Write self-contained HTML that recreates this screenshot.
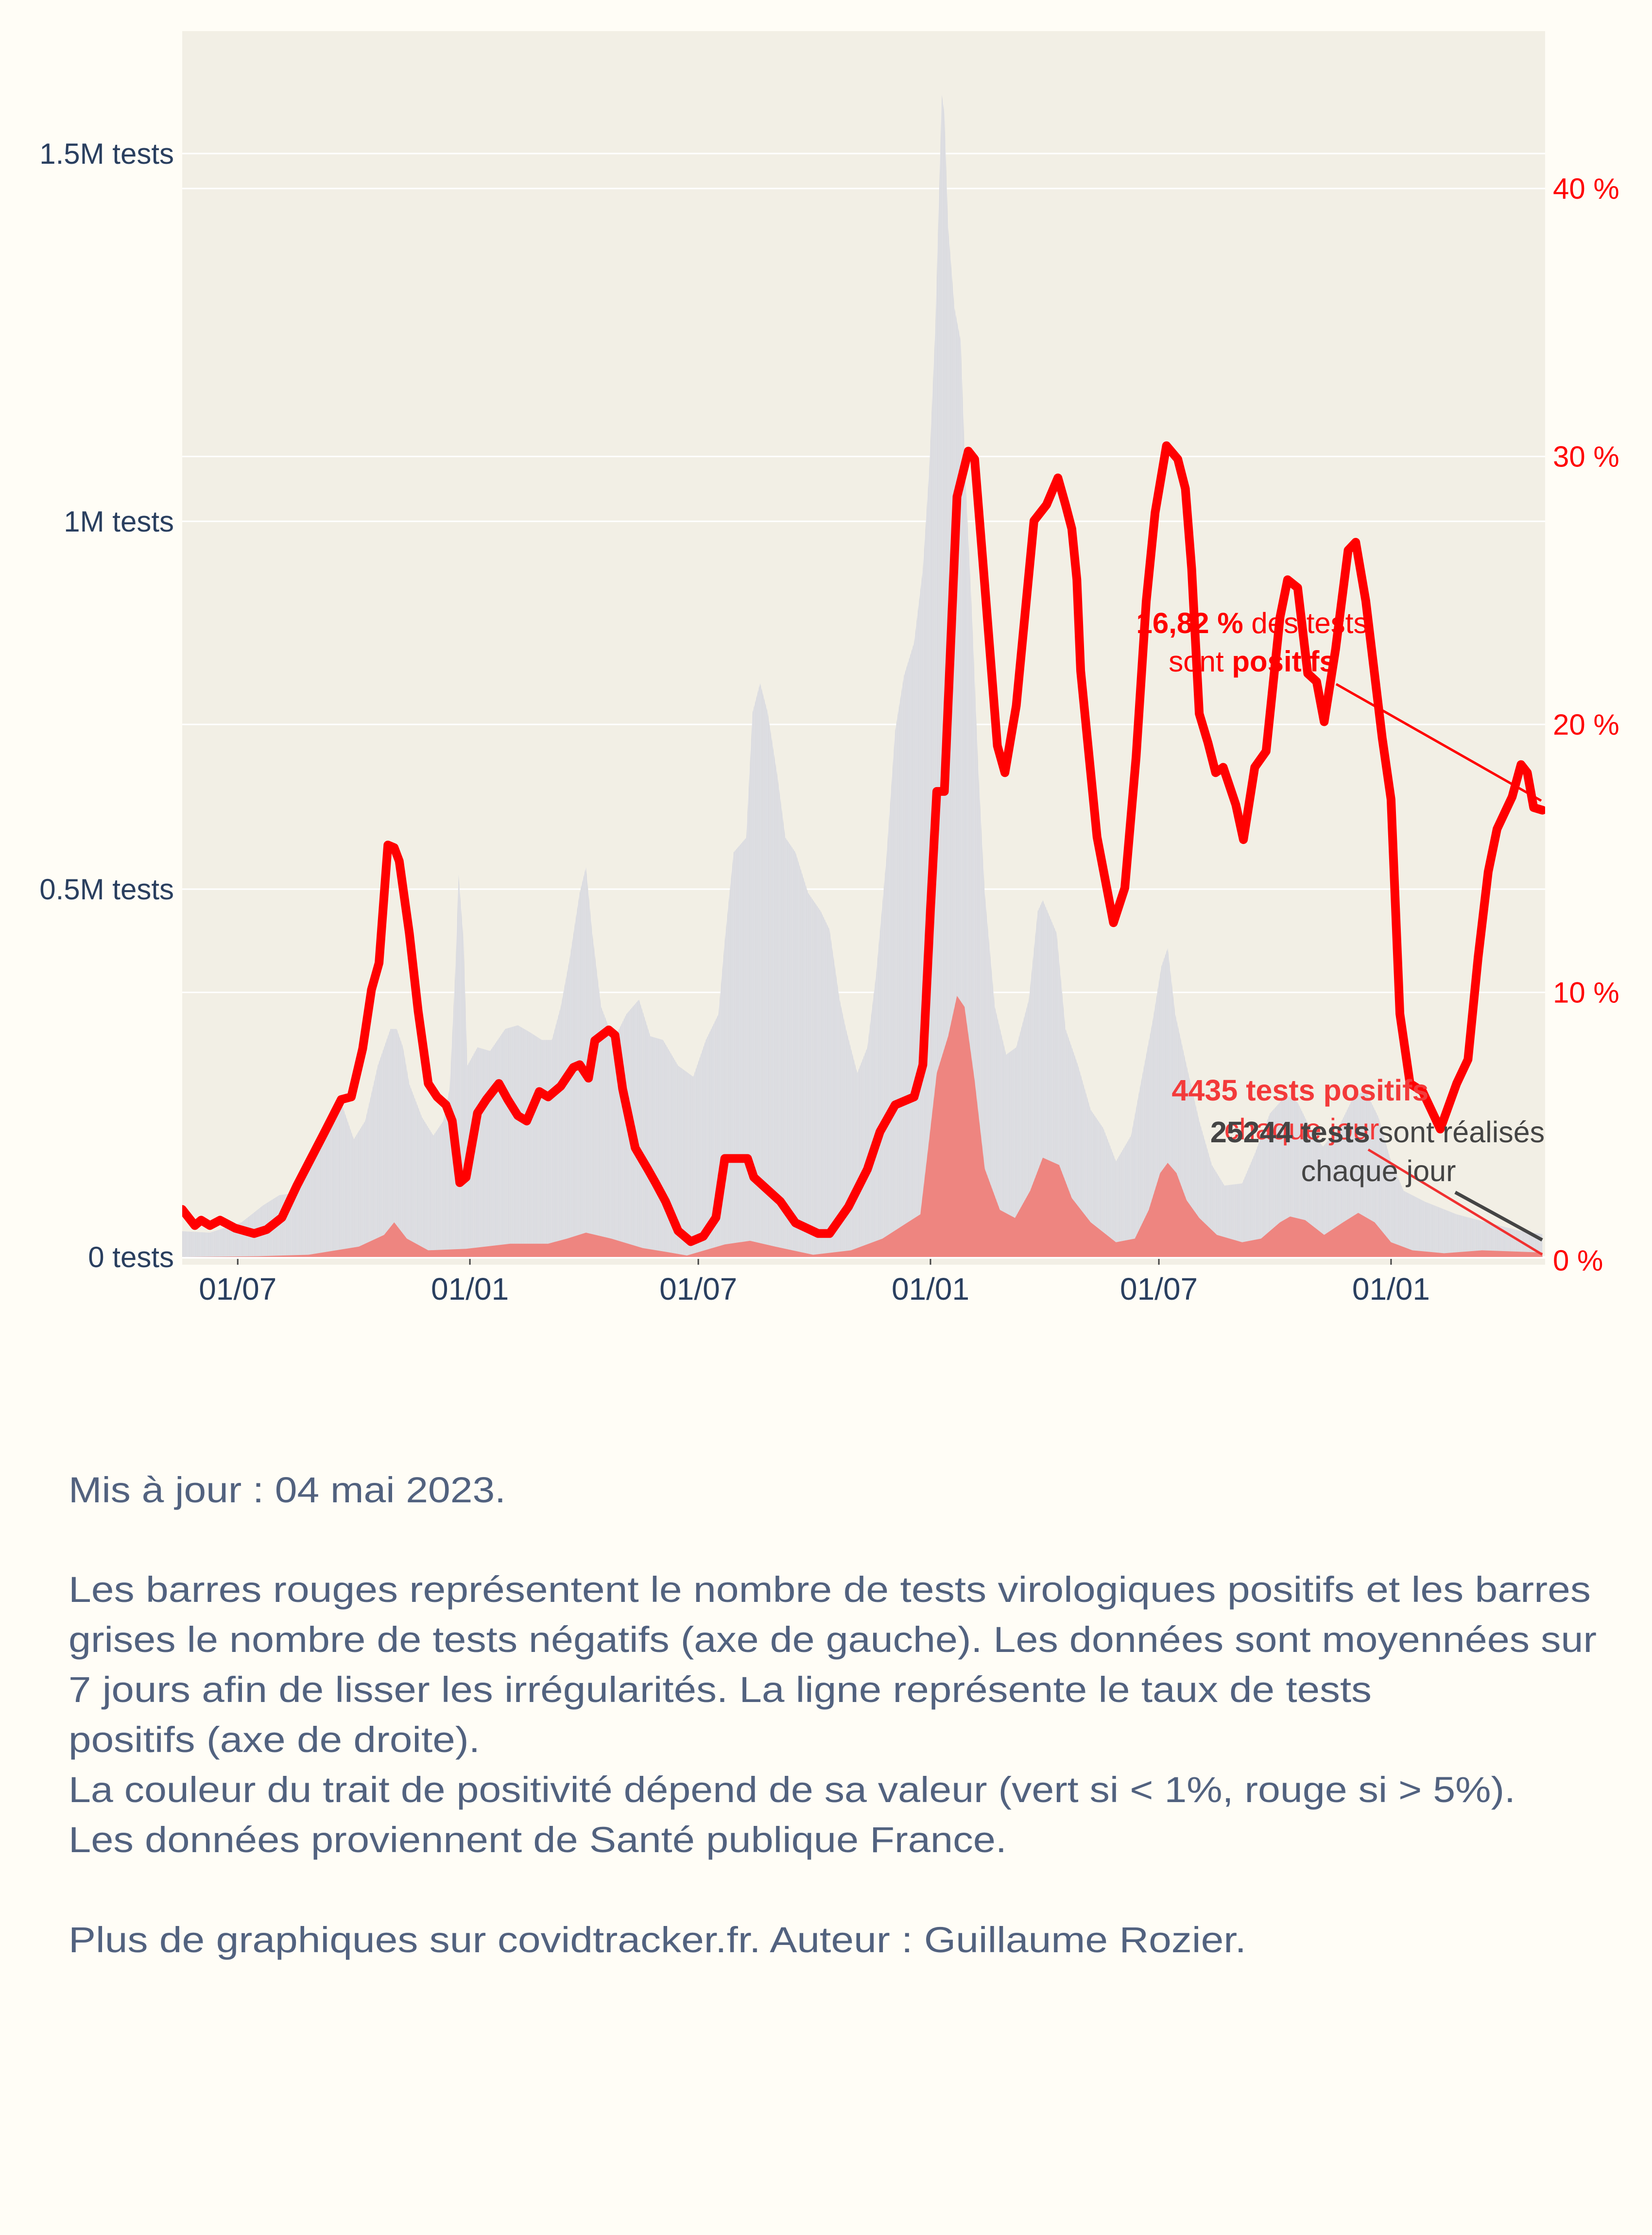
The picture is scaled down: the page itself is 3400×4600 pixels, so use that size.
<!DOCTYPE html>
<html><head><meta charset="utf-8"><style>
html,body{margin:0;padding:0;background:#fffdf6;}
svg{display:block;}
</style></head><body>
<svg id="chart" width="3400" height="4600" viewBox="0 0 3400 4600" xmlns="http://www.w3.org/2000/svg" font-family="'Liberation Sans', sans-serif">
<rect x="0" y="0" width="3400" height="4600" fill="#fffdf6"/>
<rect x="375" y="64" width="2805" height="2539" fill="#f2efe5"/>
<defs><clipPath id="plotclip"><rect x="375" y="64" width="2805" height="2539"/></clipPath></defs>
<g id="grid"></g>
<g id="bars" clip-path="url(#plotclip)"></g>
<g id="line" clip-path="url(#plotclip)"></g>
<g id="axes"></g>
<g id="annot">
  <line x1="2750" y1="1408" x2="3172" y2="1648" stroke="#ff0000" stroke-width="5"/>
  <text x="2577" y="1303" text-anchor="middle" font-size="60" fill="#ff0000"><tspan font-weight="bold">16,82 %</tspan> des tests</text>
  <text x="2577" y="1382" text-anchor="middle" font-size="60" fill="#ff0000">sont <tspan font-weight="bold">positifs</tspan></text>
  <line x1="2816" y1="2366" x2="3174" y2="2582" stroke="#f03030" stroke-width="5"/>
  <line x1="2995" y1="2454" x2="3174" y2="2552" stroke="#444" stroke-width="7"/>
  <text x="2676" y="2265" text-anchor="middle" font-size="61" font-weight="bold" fill="#f33a3a">4435 tests positifs</text>
  <text x="2679" y="2345" text-anchor="middle" font-size="61" fill="#f33a3a">chaque jour</text>
  <text x="2835" y="2351" text-anchor="middle" font-size="61" fill="#444"><tspan font-weight="bold">25244 tests</tspan> sont réalisés</text>
  <text x="2837" y="2431" text-anchor="middle" font-size="61" fill="#444">chaque jour</text>
</g>
<g font-size="74" fill="#52627f">
  <text x="141" y="3092" textLength="900" lengthAdjust="spacingAndGlyphs">Mis à jour : 04 mai 2023.</text>
  <text x="141" y="3297" textLength="3133" lengthAdjust="spacingAndGlyphs">Les barres rouges représentent le nombre de tests virologiques positifs et les barres</text>
  <text x="141" y="3400" textLength="3145" lengthAdjust="spacingAndGlyphs">grises le nombre de tests négatifs (axe de gauche). Les données sont moyennées sur</text>
  <text x="141" y="3503" textLength="2682" lengthAdjust="spacingAndGlyphs">7 jours afin de lisser les irrégularités. La ligne représente le taux de tests</text>
  <text x="141" y="3606" textLength="847" lengthAdjust="spacingAndGlyphs">positifs (axe de droite).</text>
  <text x="141" y="3709" textLength="2978" lengthAdjust="spacingAndGlyphs">La couleur du trait de positivité dépend de sa valeur (vert si &lt; 1%, rouge si &gt; 5%).</text>
  <text x="141" y="3812" textLength="1931" lengthAdjust="spacingAndGlyphs">Les données proviennent de Santé publique France.</text>
  <text x="141" y="4018" textLength="2424" lengthAdjust="spacingAndGlyphs">Plus de graphiques sur covidtracker.fr. Auteur : Guillaume Rozier.</text>
</g>
</svg>
<script>
// Day offsets from 2020-05-18
const testDays = [0,22,47,64,77,86,101,116,126,136,145,155,165,170,175,180,190,199,207,212,217,219,223,226,234,244,256,266,276,285,293,300,307,315,320,325,332,342,352,362,371,381,393,405,415,425,430,437,447,452,458,464,472,478,486,496,506,513,521,526,535,543,550,558,565,572,580,587,592,597,602,604,607,612,617,621,626,631,636,644,653,661,671,678,682,693,700,710,720,730,740,752,759,769,776,781,787,796,806,816,826,840,850,862,875,884,894,904,916,929,938,948,958,968,985,1010,1034,1059,1078];
const testTotals = [0.035,0.033,0.047,0.07,0.084,0.086,0.14,0.19,0.21,0.16,0.185,0.26,0.31,0.31,0.285,0.235,0.19,0.165,0.185,0.23,0.41,0.52,0.43,0.26,0.285,0.28,0.31,0.315,0.305,0.295,0.295,0.34,0.405,0.495,0.53,0.44,0.34,0.295,0.33,0.35,0.30,0.295,0.26,0.245,0.295,0.33,0.43,0.55,0.57,0.74,0.78,0.74,0.65,0.57,0.55,0.495,0.47,0.445,0.35,0.31,0.25,0.285,0.385,0.54,0.715,0.79,0.835,0.935,1.07,1.27,1.58,1.555,1.40,1.29,1.245,1.05,0.87,0.66,0.495,0.34,0.275,0.285,0.35,0.47,0.485,0.44,0.31,0.26,0.20,0.175,0.13,0.165,0.23,0.32,0.395,0.42,0.33,0.26,0.185,0.125,0.097,0.10,0.14,0.195,0.22,0.21,0.175,0.15,0.175,0.22,0.225,0.19,0.13,0.09,0.075,0.058,0.047,0.036,0.031];
const posDays = [0,60,100,140,160,168,178,195,225,260,290,305,320,340,365,383,400,430,450,470,500,530,555,575,585,592,598,607,614,620,628,636,648,660,672,682,695,705,720,740,755,766,775,781,788,796,806,820,840,855,870,878,890,905,920,932,945,958,975,1000,1030,1078];
const posValues = [0,0.001,0.003,0.014,0.03,0.047,0.025,0.009,0.011,0.018,0.018,0.025,0.033,0.025,0.012,0.007,0.002,0.017,0.022,0.014,0.003,0.009,0.025,0.047,0.058,0.16,0.25,0.30,0.355,0.34,0.24,0.12,0.064,0.053,0.09,0.135,0.125,0.08,0.047,0.02,0.025,0.064,0.114,0.128,0.114,0.077,0.053,0.03,0.02,0.025,0.047,0.055,0.05,0.03,0.047,0.06,0.047,0.02,0.009,0.005,0.009,0.006];
const rateDays = [0,10,15,22,30,42,57,67,79,91,113,126,134,143,150,156,163,168,172,180,187,195,202,209,214,220,225,234,241,251,258,266,273,283,290,300,310,315,322,327,338,343,349,359,369,375,383,393,403,413,423,430,442,448,453,474,486,504,513,528,543,553,565,580,587,593,598,604,614,623,628,636,646,652,661,675,685,694,700,705,709,712,725,738,747,756,764,771,780,789,795,800,806,813,819,825,835,841,850,859,870,876,884,892,899,905,914,924,930,938,951,958,965,973,983,997,1010,1019,1027,1035,1042,1054,1061,1066,1071,1078];
const rateValues = [1.9,1.3,1.5,1.3,1.5,1.2,1.0,1.15,1.6,2.8,4.8,6.0,6.1,7.9,10.1,11.1,15.5,15.4,14.9,12.2,9.3,6.6,6.1,5.8,5.2,2.9,3.1,5.5,6.0,6.6,6.0,5.4,5.2,6.3,6.1,6.5,7.2,7.3,6.8,8.2,8.6,8.4,6.4,4.2,3.4,2.9,2.2,1.1,0.7,0.9,1.6,3.8,3.8,3.8,3.1,2.2,1.4,1.0,1.0,2.0,3.4,4.8,5.8,6.1,7.3,13.1,17.5,17.5,28.5,30.2,29.9,25.2,19.2,18.2,20.7,27.6,28.2,29.2,28.2,27.3,25.4,22.0,15.8,12.6,13.9,18.8,24.6,27.9,30.4,29.9,28.8,25.8,20.4,19.3,18.2,18.4,17.0,15.7,18.4,19.0,24.0,25.4,25.1,21.9,21.6,20.1,22.8,26.5,26.8,24.6,19.5,17.2,9.2,6.6,6.3,4.9,6.6,7.5,11.3,14.5,16.1,17.3,18.5,18.2,16.9,16.8];
const leftTicks = [0,0.5,1,1.5];
const leftTickLabels = ["0 tests","0.5M tests","1M tests","1.5M tests"];
const rightTicks = [0,10,20,30,40];
const rightTickLabels = ["0 %","10 %","20 %","30 %","40 %"];
const xTickDates = ["2020-07-01","2021-01-01","2021-07-01","2022-01-01","2022-07-01","2023-01-01"];
const xTickLabels = ["01/07","01/01","01/07","01/01","01/07","01/01"];

const NS = "http://www.w3.org/2000/svg";
const X0 = 375, PX_PER_DAY = 2.597;
const START = Date.UTC(2020,4,18);
function xScale(d){ return X0 + d*PX_PER_DAY; }
function yLeft(v){ return 2587 - v*1514; }
function yRight(p){ return 2594 - p*55.15; }
function dateToDay(s){ const a=s.split("-").map(Number); return Math.round((Date.UTC(a[0],a[1]-1,a[2])-START)/86400000); }
function mk(tag, attrs, parent){ const e=document.createElementNS(NS,tag); for(const k in attrs) e.setAttribute(k,attrs[k]); parent.appendChild(e); return e; }

const grid = document.getElementById("grid");
const axes = document.getElementById("axes");
leftTicks.forEach((v,i)=>{
  const g = mk("line",{x1:375,x2:3180,y1:yLeft(v),y2:yLeft(v),stroke:"#ffffff","stroke-width":3},grid);
  
  
  const t = mk("text",{x:358,y:yLeft(v)+21,"text-anchor":"end","font-size":60,fill:"#2a3f5f"},axes);
  t.textContent = leftTickLabels[i];
  
  
});
rightTicks.forEach((v,i)=>{
  if(v>0){
    const g = mk("line",{x1:375,x2:3180,y1:yRight(v),y2:yRight(v),stroke:"#ffffff","stroke-width":3},grid);
    
    
  }
  const t = mk("text",{x:3196,y:yRight(v)+21,"font-size":60,fill:"#ff0000"},axes);
  t.textContent = rightTickLabels[i];
  
  
});
xTickDates.forEach((s,i)=>{
  const x = xScale(dateToDay(s));
  const tk = mk("line",{x1:x,x2:x,y1:2591,y2:2603,stroke:"#444","stroke-width":3},axes);
  
  
  const t = mk("text",{x:x,y:2675,"text-anchor":"middle","font-size":64,fill:"#2a3f5f"},axes);
  t.textContent = xTickLabels[i];
  
  
});

function areaPath(days, vals){
  let d = "M"+xScale(days[0])+","+yLeft(0);
  for(let i=0;i<days.length;i++) d += " L"+xScale(days[i]).toFixed(1)+","+yLeft(vals[i]).toFixed(1);
  d += " L"+xScale(days[days.length-1])+","+yLeft(0)+" Z";
  return d;
}
const bars = document.getElementById("bars");
const defs = mk("defs",{},bars);
const pat = mk("pattern",{id:"stripes",width:PX_PER_DAY,height:10,patternUnits:"userSpaceOnUse",x:X0},defs);
mk("rect",{x:0,y:0,width:PX_PER_DAY,height:10,fill:"#d3d4d9"},pat);
mk("rect",{x:PX_PER_DAY-1.1,y:0,width:1.1,height:10,fill:"#e9e9ec"},pat);
const gray = mk("path",{d:areaPath(testDays,testTotals),fill:"url(#stripes)"},bars);


const red = mk("path",{d:areaPath(posDays,posValues),fill:"#ee8580"},bars);


const zl = mk("line",{x1:375,x2:3180,y1:2589,y2:2589,stroke:"#ffffff","stroke-width":3},bars);



const lineG = document.getElementById("line");
let ld = "";
for(let i=0;i<rateDays.length;i++) ld += (i?" L":"M")+xScale(rateDays[i]).toFixed(1)+","+yRight(rateValues[i]).toFixed(1);
const pl = mk("path",{d:ld,fill:"none",stroke:"#ff0000","stroke-width":18,"stroke-linejoin":"round","stroke-linecap":"round"},lineG);


</script>
</body></html>
